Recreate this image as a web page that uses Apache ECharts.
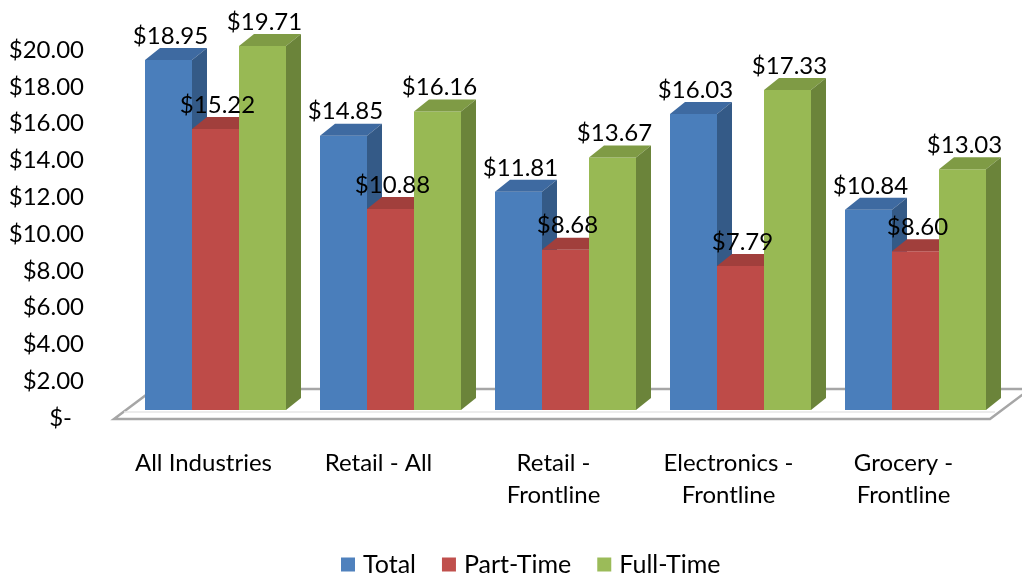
<!doctype html>
<html>
<head>
<meta charset="utf-8">
<title>Wages 3D bars</title>
<style>
  html, body { margin: 0; padding: 0; background: #fff; }
  #main { width: 1022px; height: 578px; }
</style>
</head>
<body>
<div id="main"></div>
<script src="https://cdn.jsdelivr.net/npm/echarts@6/dist/echarts.min.js"></script>
<script>
var categories = ['All Industries', 'Retail - All', 'Retail -\nFrontline', 'Electronics -\nFrontline', 'Grocery -\nFrontline'];
var seriesNames = ['Total', 'Part-Time', 'Full-Time'];
var totalValues = [18.95, 14.85, 11.81, 16.03, 10.84];
var partTimeValues = [15.22, 10.88, 8.68, 7.79, 8.60];
var fullTimeValues = [19.71, 16.16, 13.67, 17.33, 13.03];

// front / top / side shades
var shades = [
    { front: '#4a7ebb', top: '#3e6aa1', side: '#345a87' },
    { front: '#be4b48', top: '#a13f3c', side: '#8a3533' },
    { front: '#98b954', top: '#7f9b45', side: '#6b843a' }
];
var FONT = 'Lato';
var FS = 24;
var DX = 15, DY = 12;

function bar3d(slot) {
    return function (params, api) {
        var ci = api.value(0);
        var v = api.value(1);
        var base = api.coord([ci, 0]);
        var top = api.coord([ci, v]);
        var band = api.size([1, 0])[0];
        var bw = band * 47 / 175;
        var x0 = base[0] - 1.5 * bw + slot * bw;
        var x1 = x0 + bw;
        var yb = base[1], yt = top[1];
        var c = shades[slot];
        return {
            type: 'group',
            children: [
                { type: 'rect', shape: { x: x0, y: yt, width: bw, height: yb - yt }, style: { fill: c.front } },
                { type: 'polygon', shape: { points: [[x0, yt], [x0 + DX, yt - DY], [x1 + DX, yt - DY], [x1, yt]] }, style: { fill: c.top } },
                { type: 'polygon', shape: { points: [[x1, yt], [x1 + DX, yt - DY], [x1 + DX, yb - DY], [x1, yb]] }, style: { fill: c.side } },
                {
                    type: 'text',
                    z2: 10,
                    style: {
                        x: x0 + bw / 2 + 2, y: yt - 12,
                        text: '$' + v.toFixed(2),
                        align: 'center', verticalAlign: 'bottom',
                        font: FS + 'px ' + FONT, fill: '#000'
                    }
                }
            ]
        };
    };
}

function pairs(vals) {
    return vals.map(function (v, i) { return [i, v]; });
}

var chart = echarts.init(document.getElementById('main'));

chart.setOption({
    animation: false,
    textStyle: { fontFamily: FONT },
    grid: [
        { left: 128, right: 19, top: 40.6, bottom: 168 },
        { left: 128, right: 19, top: 50, bottom: 160 }
    ],
    legend: {
        bottom: -4,
        left: 336,
        icon: 'rect',
        itemWidth: 14,
        itemHeight: 14,
        itemGap: 26,
        textStyle: { fontSize: 25, color: '#000', fontFamily: FONT, padding: [0, 0, 0, 3] },
        data: seriesNames
    },
    xAxis: [
        {
            type: 'category',
            gridIndex: 0,
            data: categories,
            axisLine: { show: false },
            axisTick: { show: false },
            axisLabel: {
                interval: 0,
                margin: 37,
                fontSize: FS,
                lineHeight: 32,
                color: '#000',
                padding: [0, 24, 0, 0]
            }
        },
        { type: 'value', gridIndex: 1, show: false }
    ],
    yAxis: [
        { type: 'value', gridIndex: 0, min: 0, max: 20, interval: 2, show: false },
        {
            type: 'value',
            gridIndex: 1,
            min: 0, max: 20, interval: 2,
            axisLine: { show: false },
            axisTick: { show: false },
            splitLine: { show: false },
            axisLabel: {
                margin: 44,
                fontSize: FS,
                color: '#000',
                formatter: function (v) {
                    return v === 0 ? '{z|$-}' : '$' + v.toFixed(2);
                },
                rich: { z: { fontSize: FS, padding: [0, 12, 0, 0], fontFamily: FONT } }
            }
        }
    ],
    graphic: [
        {
            type: 'polygon',
            z: 0,
            shape: { points: [[114, 419], [154, 389], [1030, 389], [990, 419]] },
            style: { fill: '#fff', stroke: '#a6a6a6', lineWidth: 2.5 }
        },
        {
            type: 'line',
            z: 0,
            shape: { x1: 124, y1: 412, x2: 995, y2: 412 },
            style: { stroke: '#e6e6e6', lineWidth: 1.5 }
        }
    ],
    series: [
        { name: seriesNames[0], type: 'custom', renderItem: bar3d(0), itemStyle: { color: '#4f81bd' }, data: pairs(totalValues) },
        { name: seriesNames[1], type: 'custom', renderItem: bar3d(1), itemStyle: { color: '#c0504d' }, data: pairs(partTimeValues) },
        { name: seriesNames[2], type: 'custom', renderItem: bar3d(2), itemStyle: { color: '#9bbb59' }, data: pairs(fullTimeValues) }
    ]
});
</script>
</body>
</html>
